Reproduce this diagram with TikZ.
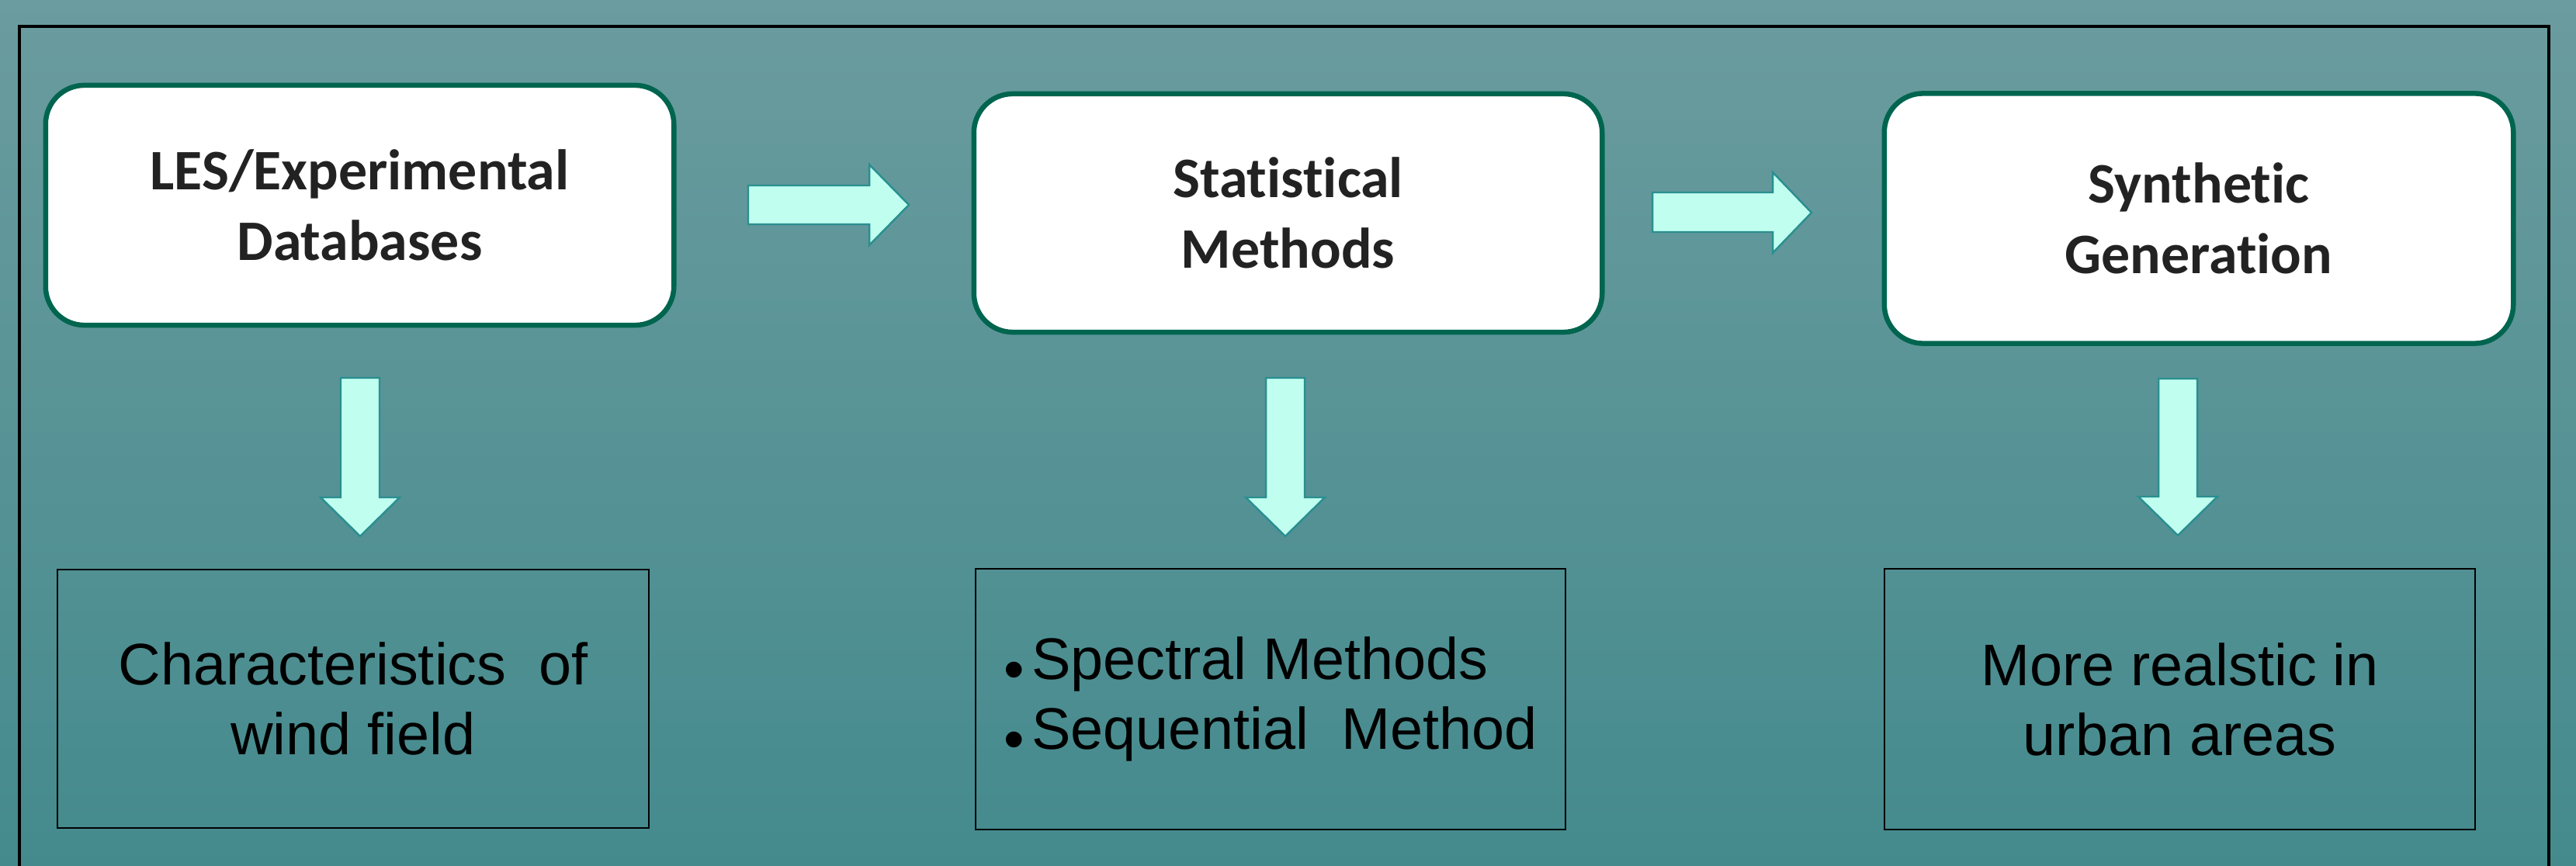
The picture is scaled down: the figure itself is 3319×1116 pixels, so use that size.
\documentclass[tikz,border=0pt]{standalone}
\usepackage{fontspec}
\setmainfont{Liberation Sans}
\newfontfamily\carlito[Ligatures=NoCommon]{Carlito}
\definecolor{bgtop}{HTML}{6B9C9F}
\definecolor{bgbot}{HTML}{448A8D}
\definecolor{mint}{HTML}{C0FFEF}
\definecolor{mintline}{HTML}{2A8F90}
\definecolor{boxgreen}{HTML}{00654F}
\definecolor{txt}{HTML}{222222}
\newcommand\lowbullet{\raisebox{-0.17em}{•}\kern0.12em}
\tikzset{
  topbox/.style={draw=boxgreen, line width=1.85pt, fill=white, rounded corners=0.5cm,
    inner sep=0pt, align=center, text=txt,
    font=\carlito\bfseries\fontsize{21}{25.8}\selectfont},
  lowbox/.style={draw=black, line width=0.6pt, inner sep=0pt,
    font=\fontsize{21.5}{25.6}\selectfont, text=black},
  blockarrow/.style={draw=mintline, line width=0.7pt, fill=mint, line join=miter}
}
\begin{document}
\begin{tikzpicture}[x=0.01cm,y=-0.01cm]
\useasboundingbox (0,0) rectangle (3319,1116);
\shade[top color=bgtop, bottom color=bgbot] (0,0) rectangle (3319,1116);
\draw[black, line width=0.9pt] (25,1116) -- (25,34) -- (3284,34) -- (3284,1116);

% top boxes
\node[topbox, minimum width=8.09cm, minimum height=3.09cm] (les) at (463.5,264.5)
  {LES/Experimental\\Databases};
\node[topbox, minimum width=8.09cm, minimum height=3.07cm] (stat) at (1659.5,274.5)
  {Statistical\\Methods};
\node[topbox, minimum width=8.10cm, minimum height=3.22cm] (synth) at (2833,281.5)
  {Synthetic\\Generation};

% lower boxes
\node[lowbox, minimum width=7.62cm, minimum height=3.33cm, align=center] (charac) at (455,900.5)
  {Characteristics\ \ of\\wind field};
\node[lowbox, minimum width=7.60cm, minimum height=3.35cm, align=left] (methods) at (1637,901)
  {\lowbullet Spectral Methods\\\lowbullet Sequential\ \ Method};
\node[lowbox, minimum width=7.61cm, minimum height=3.35cm, align=center] (urban) at (2808.5,901)
  {More\ realstic\ in\\urban\ areas};

% right block arrows
\draw[blockarrow] (964,239) -- (1120,239) -- (1120,212) -- (1171,264) -- (1120,316) -- (1120,289) -- (964,289) -- cycle;
\draw[blockarrow] (2129,248) -- (2284,248) -- (2284,222) -- (2334,274) -- (2284,326) -- (2284,299) -- (2129,299) -- cycle;

% down block arrows
\draw[blockarrow] (439,487) -- (489,487) -- (489,641) -- (515,641) -- (464,691) -- (413,641) -- (439,641) -- cycle;
\draw[blockarrow] (1631,487) -- (1681,487) -- (1681,641) -- (1707,641) -- (1656,691) -- (1605,641) -- (1631,641) -- cycle;
\draw[blockarrow] (2781,488) -- (2831,488) -- (2831,640) -- (2857,640) -- (2806,690) -- (2755,640) -- (2781,640) -- cycle;
\end{tikzpicture}
\end{document}
